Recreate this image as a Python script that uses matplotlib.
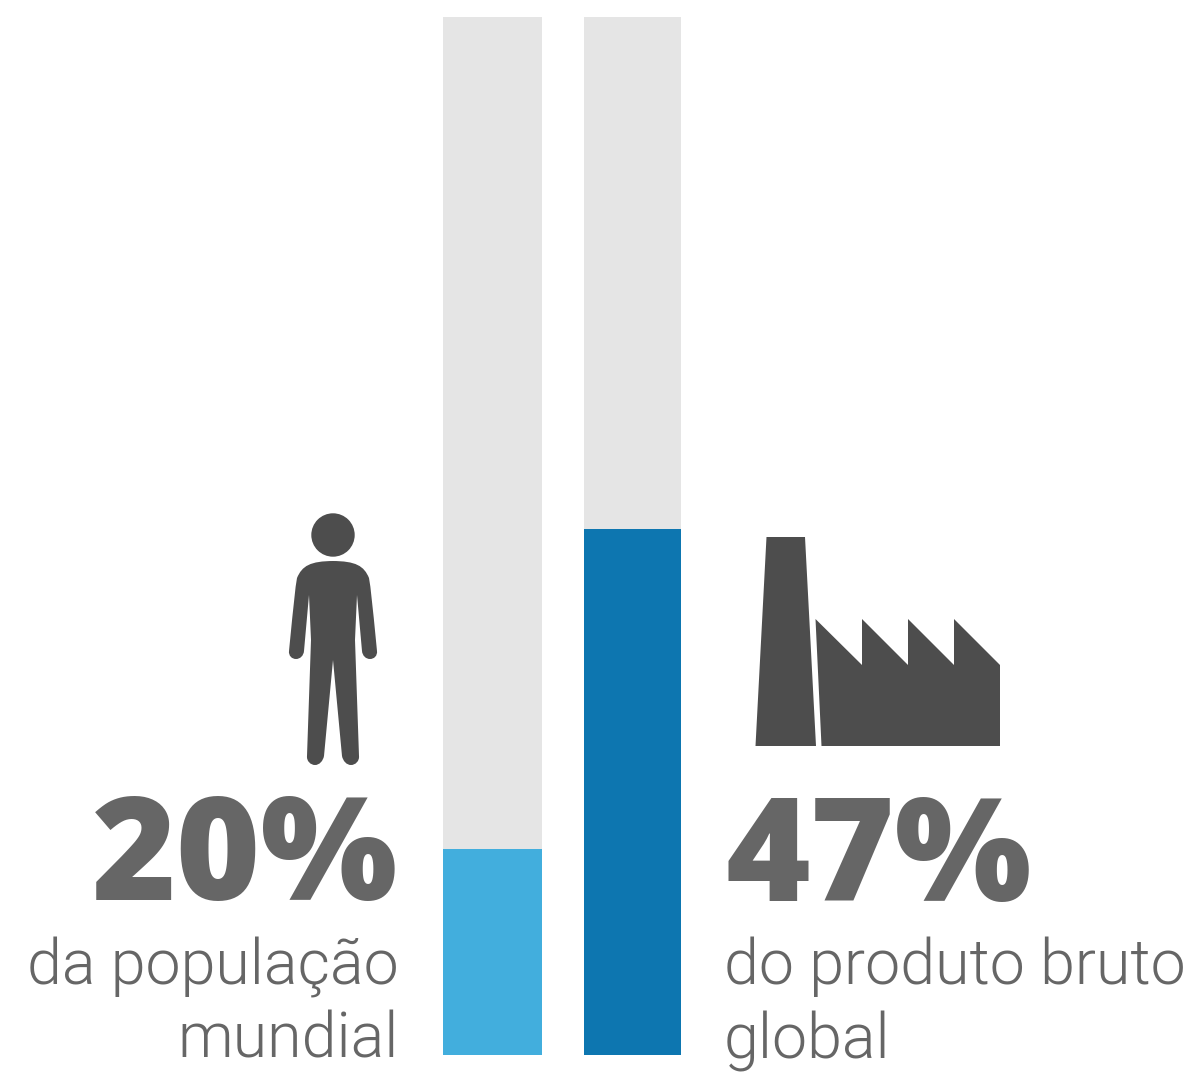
#!/usr/bin/env python

import matplotlib
matplotlib.use("Agg")
import matplotlib.pyplot as plt
from matplotlib.patches import Circle, PathPatch, Polygon
from matplotlib.path import Path

WIDTH, HEIGHT = 1193, 1073

# bar values (the drawn height of the right bar is above its label)
categories = ["população mundial", "produto bruto global"]
shares = [19.85, 50.67]
totals = [100, 100]
bar_colors = ["#42aedd", "#0d76b0"]
track_color = "#e5e5e5"

big_labels = ["20%", "47%"]
left_caption = ["da população", "mundial"]
right_caption = ["do produto bruto", "global"]

text_color = "#666666"
icon_color = "#4d4d4d"


def person_half():
    # right half of the figure, closed a little past the axis so the two halves overlap
    verts = [
        (332, 561),
        (356, 561), (364, 566), (369, 578),
        (371, 590), (372, 600), (377, 651),
        (377.5, 656), (374, 659), (370, 659),
        (366, 659), (362.5, 656), (362, 651),
        (357, 595),
        (355, 640),
        (359, 756),
        (359.5, 761), (355.5, 765), (351, 765),
        (346.5, 765), (343, 761), (342, 756),
        (333, 660),
        (332, 660),
        (332, 561),
    ]
    codes = [Path.MOVETO] + [Path.CURVE4] * 12 + [Path.LINETO] * 3 + [Path.CURVE4] * 6 + [Path.LINETO] * 2 + [Path.CLOSEPOLY]
    return verts, codes


def main():
    fig = plt.figure(figsize=(WIDTH / 100, HEIGHT / 100), dpi=100, facecolor="white")

    # bars: 0-100 scale runs from y=1055 to y=17, bar centres are 140 px apart
    ax = fig.add_axes([443 / WIDTH, 1 - 1055 / HEIGHT, 238 / WIDTH, 1038 / HEIGHT])
    widths = [99 / 140, 97 / 140]
    xs = range(len(categories))
    ax.bar(xs, totals, width=widths, color=track_color)
    ax.bar(xs, shares, width=widths, color=bar_colors)
    ax.set_xlim(-49.5 / 140, 1 + 48.5 / 140)
    ax.set_ylim(0, 100)
    ax.axis("off")

    # icons and texts in pixel coordinates
    over = fig.add_axes([0, 0, 1, 1])
    over.set_xlim(0, WIDTH)
    over.set_ylim(HEIGHT, 0)
    over.axis("off")

    over.add_patch(Circle((333, 535), 21.7, color=icon_color, lw=0))
    verts, codes = person_half()
    over.add_patch(PathPatch(Path(verts, codes), facecolor=icon_color, lw=0))
    over.add_patch(PathPatch(Path([(666 - x, y) for x, y in verts], codes), facecolor=icon_color, lw=0))

    over.add_patch(Polygon([(766.5, 537), (805, 537), (816, 746), (755.5, 746)], color=icon_color, lw=0))
    over.add_patch(Polygon([(815.5, 619), (862, 665), (862, 619), (908, 665), (908, 619), (954, 665),
                            (954, 619), (1000, 665), (1000, 746), (821.5, 746)], color=icon_color, lw=0))

    big = dict(family="Open Sans", fontweight=800, fontsize=104, color=text_color, va="baseline")
    over.text(398, 900, big_labels[0], ha="right", **big)
    over.text(726, 901, big_labels[1], ha="left", **big)

    small = dict(family="Roboto", fontweight=300, fontsize=45.2, color=text_color, va="baseline")
    for line, y in zip(left_caption, (984, 1058)):
        over.text(399, y, line, ha="right", **small)
    for line, y in zip(right_caption, (984, 1058)):
        over.text(724, y, line, ha="left", **small)

    fig.savefig("out.png", dpi=100)


if __name__ == "__main__":
    main()
